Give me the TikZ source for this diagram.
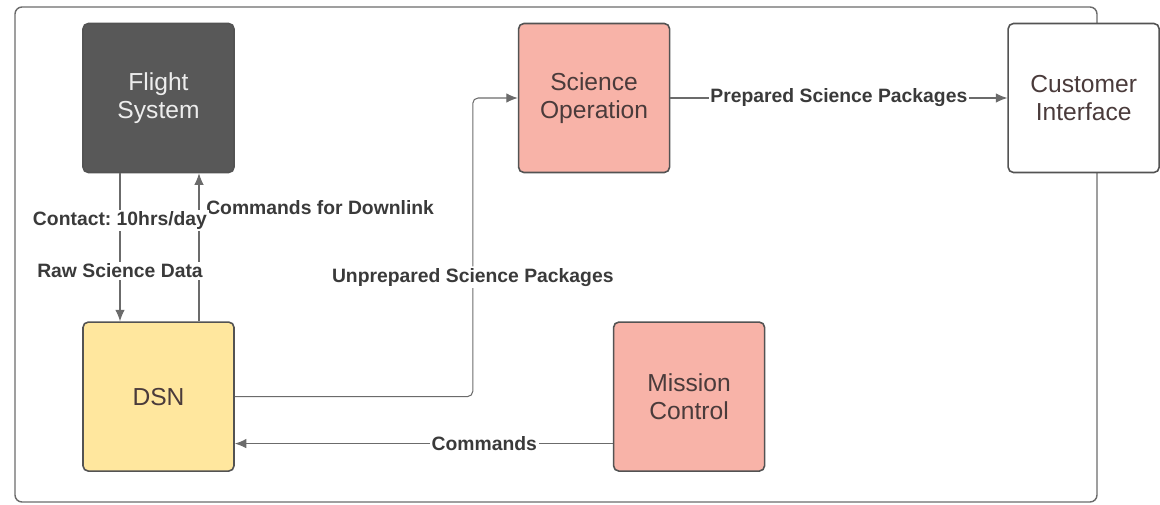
\documentclass[tikz,border=0pt]{standalone}
\usepackage{fontspec}
\setmainfont{Liberation Sans}
\usetikzlibrary{positioning, arrows.meta}

\definecolor{fsgray}{HTML}{585858}
\definecolor{fstext}{HTML}{EDEDED}
\definecolor{dsnyellow}{HTML}{FFE79E}
\definecolor{salmon}{HTML}{F8B3A8}
\definecolor{edgegray}{HTML}{535353}
\definecolor{linegray}{HTML}{6B6B6B}
\definecolor{labeltext}{HTML}{3A3A3A}
\definecolor{boxtext}{HTML}{4A3B3B}

\begin{document}
\frenchspacing
\begin{tikzpicture}[node distance=1cm,
			block/.style={rectangle, draw=edgegray, line width=0.9pt, rounded corners=3pt, minimum width=3.02cm, minimum height=2.98cm, align=center, text=boxtext, font=\fontsize{14}{16}\selectfont},
			arrow/.style={-{Latex[length=2.3mm,width=1.9mm]}, draw=linegray, line width=0.6pt},
			lbl/.style={fill=white, inner sep=1pt, text=labeltext, font=\bfseries\fontsize{11}{13}\selectfont}]

			\useasboundingbox (0,0) rectangle (23.2,-10.1);
			% outer frame
			\draw[linegray, line width=0.8pt, rounded corners=4pt] (0.3,-0.14) rectangle (21.94,-10.04);

			\node[block, fill=fsgray, text=fstext] (FS) at (3.17,-1.96) {Flight\\System};
			\node[block, fill=dsnyellow, below=2.96cm of FS] (DSN) {DSN};
			\node[block, fill=salmon, right=5.66cm of FS] (SO) {Science\\Operation};
			\node[block, fill=white, right=6.74cm of SO] (CI) {Customer\\Interface};
			\node[block, fill=salmon, right=7.56cm of DSN] (MC) {Mission\\Control};

			\draw[arrow] ([xshift=0.81cm]DSN.north) -- node[pos=0.77, right, lbl, fill=none, xshift=0.1cm] {Commands for Downlink} ([xshift=0.81cm]FS.south);
			\draw[arrow] ([xshift=-0.77cm]FS.south) -- node[pos=0.32, lbl] {Contact: 10hrs/day} node[pos=0.66, lbl] {Raw Science Data} ([xshift=-0.77cm]DSN.north);
			\draw[arrow, rounded corners=3pt] (DSN.east) -| node[pos=0.7, lbl] {Unprepared Science Packages} ([xshift=-0.9cm]SO.west) -- (SO.west);
			\draw[arrow] (SO) -- node[lbl] {Prepared Science Packages} (CI);
			\draw[arrow] ([yshift=-0.94cm]MC.west) -- node[pos=0.34, lbl] {Commands} ([yshift=-0.94cm]DSN.east);
		\end{tikzpicture}
\end{document}
